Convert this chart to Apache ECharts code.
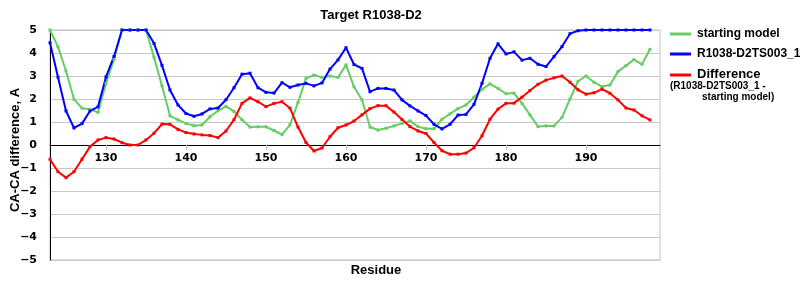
<!DOCTYPE html>
<html>
<head>
<meta charset="utf-8">
<script src="https://cdn.jsdelivr.net/npm/echarts@6/dist/echarts.min.js"></script>
<style>html,body{margin:0;padding:0;background:#fff}#c{width:800px;height:300px}</style>
</head>
<body>
<div id="c"></div>
<script>
var residueStart = 123;
var xTickLabels = [130, 140, 150, 160, 170, 180, 190];
var yTickLabels = [-5, -4, -3, -2, -1, 0, 1, 2, 3, 4, 5];

var startingModel = [5.0,4.27,3.22,1.99,1.6,1.55,1.42,2.68,3.72,5,5,5,5,3.81,2.57,1.27,1.09,0.94,0.84,0.87,1.23,1.49,1.68,1.46,1.1,0.78,0.79,0.79,0.63,0.45,0.88,1.85,2.9,3.04,2.94,3.0,2.94,3.48,2.53,1.96,0.78,0.65,0.73,0.83,0.94,1.05,0.8,0.71,0.71,1.12,1.35,1.58,1.74,2.08,2.42,2.66,2.46,2.23,2.26,1.81,1.31,0.8,0.83,0.83,1.2,2.0,2.77,3.0,2.73,2.54,2.61,3.19,3.45,3.71,3.51,4.16];
var modelTS003 = [4.45,2.95,1.48,0.74,0.93,1.48,1.66,2.96,3.85,5,5,5,5,4.42,3.46,2.39,1.74,1.37,1.25,1.35,1.57,1.61,1.97,2.49,3.08,3.12,2.49,2.29,2.26,2.71,2.51,2.61,2.68,2.57,2.70,3.30,3.70,4.23,3.50,3.33,2.32,2.46,2.46,2.39,1.96,1.70,1.48,1.28,0.90,0.70,0.90,1.30,1.33,1.77,2.68,3.77,4.40,3.96,4.05,3.69,3.77,3.51,3.41,3.84,4.28,4.84,4.97,5,5,5,5,5,5,5,5,5];
var difference = [-0.62,-1.16,-1.42,-1.16,-0.62,-0.07,0.22,0.32,0.26,0.1,0.0,0.0,0.22,0.51,0.91,0.9,0.68,0.54,0.48,0.44,0.41,0.32,0.61,1.1,1.81,2.05,1.88,1.67,1.81,1.88,1.6,0.78,0.11,-0.26,-0.13,0.36,0.75,0.87,1.04,1.31,1.58,1.71,1.71,1.43,1.11,0.8,0.61,0.5,0.11,-0.25,-0.4,-0.4,-0.35,-0.12,0.4,1.12,1.56,1.81,1.82,2.08,2.37,2.64,2.82,2.92,3.0,2.73,2.4,2.21,2.27,2.43,2.25,1.96,1.61,1.52,1.27,1.09];

function pairs(arr){ return arr.map(function(v,i){ return [residueStart + i, v]; }); }

var GREEN = '#66cc66', BLUE = '#0000ff', RED = '#ff0000';
var TXT = 'Liberation Sans, Arial, sans-serif';
var NUM = 'DejaVu Sans, Verdana, sans-serif';

function lineSeries(name, data, color){
  return {
    name: name, type: 'line', data: pairs(data),
    symbol: 'rect', symbolSize: 3, showSymbol: true,
    lineStyle: {color: color, width: 2},
    itemStyle: {color: color},
    animation: false
  };
}

var chart = echarts.init(document.getElementById('c'), null, {renderer: 'canvas'});
chart.setOption({
  animation: false,
  grid: {left: 50, right: 140, top: 30, bottom: 40, show: true, borderColor: '#c0c0c0', borderWidth: 1, backgroundColor: 'transparent'},
  xAxis: {
    type: 'value', min: 123, max: 199.25,
    offset: -115,
    axisLine: {onZero: false, lineStyle: {color: '#000', width: 1}},
    axisTick: {show: true, length: 5, lineStyle: {color: '#c0c0c0'}, customValues: xTickLabels},
    axisLabel: {customValues: xTickLabels, color: '#000', fontFamily: NUM, fontWeight: 'bold', fontSize: 11, margin: 8},
    splitLine: {show: false}
  },
  yAxis: {
    type: 'value', min: -5, max: 5, interval: 1,
    axisLine: {show: true, onZero: false, lineStyle: {color: '#000', width: 1}},
    axisTick: {show: false},
    axisLabel: {color: '#000', fontFamily: NUM, fontWeight: 'bold', fontSize: 11, margin: 13,
      formatter: function(v){ return yTickLabels.indexOf(v) < 0 ? '' : (v < 0 ? '\u2212' + Math.abs(v) : String(v)); }},
    splitLine: {show: true, lineStyle: {color: '#c8c8c8', width: 1}}
  },
  series: [
    lineSeries('starting model', startingModel, GREEN),
    lineSeries('R1038-D2TS003_1', modelTS003, BLUE),
    lineSeries('Difference', difference, RED)
  ],
  graphic: [
    {type: 'text', style: {text: 'Target R1038-D2', x: 371, y: 15, align: 'center', verticalAlign: 'middle', font: 'bold 13px ' + TXT, fill: '#000'}},
    {type: 'text', style: {text: 'CA-CA difference, A', align: 'center', verticalAlign: 'middle', font: 'bold 13px ' + TXT, fill: '#000'}, x: 15, y: 150, rotation: Math.PI/2},
    {type: 'text', style: {text: 'Residue', x: 376, y: 270, align: 'center', verticalAlign: 'middle', font: 'bold 13px ' + TXT, fill: '#000'}},
    {type: 'line', shape: {x1: 670, y1: 34, x2: 691, y2: 34}, style: {stroke: GREEN, lineWidth: 3}},
    {type: 'text', style: {text: 'starting model', x: 697, y: 34, verticalAlign: 'middle', font: 'bold 12px ' + TXT, fill: '#000'}},
    {type: 'line', shape: {x1: 670, y1: 54, x2: 691, y2: 54}, style: {stroke: BLUE, lineWidth: 3}},
    {type: 'text', style: {text: 'R1038-D2TS003_1', x: 697, y: 54, verticalAlign: 'middle', font: 'bold 12px ' + TXT, fill: '#000'}},
    {type: 'line', shape: {x1: 670, y1: 75, x2: 691, y2: 75}, style: {stroke: RED, lineWidth: 3}},
    {type: 'text', style: {text: 'Difference', x: 697, y: 74, verticalAlign: 'middle', font: 'bold 13px ' + TXT, fill: '#000'}},
    {type: 'text', style: {text: '(R1038-D2TS003_1 -', x: 670, y: 86, verticalAlign: 'middle', font: 'bold 10px ' + TXT, fill: '#000'}},
    {type: 'text', style: {text: 'starting model)', x: 702, y: 97, verticalAlign: 'middle', font: 'bold 10px ' + TXT, fill: '#000'}}
  ]
});
</script>
</body>
</html>
